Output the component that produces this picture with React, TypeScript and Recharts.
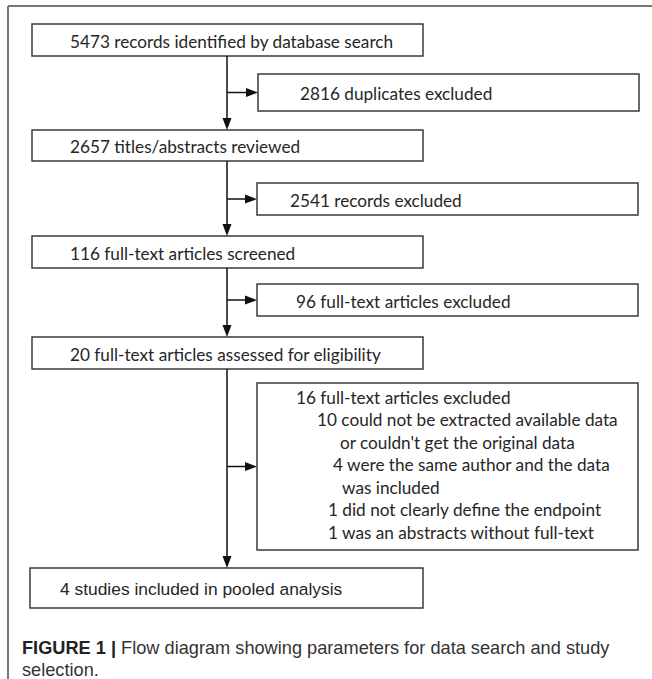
import React from 'react';
import { ComposedChart, XAxis, YAxis, ReferenceArea, ReferenceLine } from 'recharts';

// ---- content ----
const mainSteps: string[] = [
  '5473 records identified by database search',
  '2657 titles/abstracts reviewed',
  '116 full-text articles screened',
  '20 full-text articles assessed for eligibility',
  '4 studies included in pooled analysis',
];
const exclusionSteps: string[][] = [
  ['2816 duplicates excluded'],
  ['2541 records excluded'],
  ['96 full-text articles excluded'],
  [
    '16 full-text articles excluded',
    '10 could not be extracted available data',
    "or couldn't get the original data",
    '4 were the same author and the data',
    'was included',
    '1 did not clearly define the endpoint',
    '1 was an abstracts without full-text',
  ],
];
const captionBold = 'FIGURE 1 |';
const captionLine1 = ' Flow diagram showing parameters for data search and study';
const captionLine2 = 'selection.';

// ---- layout (diagram coordinates) ----
const W = 652;
const H = 679;
const mainLeft = [32, 32, 32, 32, 30];
const mainRight = [423, 423, 423, 423, 423];
const mainTop = [24, 130, 236, 337, 568];
const mainBottom = [56, 161, 268, 369, 608];
const mainTextOffset = [38, 38, 38, 38, 30];
const exclLeft = [258, 257, 257, 257];
const exclRight = [639, 638, 638, 638];
const exclTop = [74, 183, 284, 383];
const exclBottom = [111, 215, 316, 550];
const exclTextOffsets = [[42], [33], [39], [39, 60, 83, 76, 85, 71, 71]];
const spineX = 227;

const FONT = 'Lato, "Open Sans", sans-serif';
const CAPTION_FONT = '"Liberation Sans Narrow", "Liberation Sans", sans-serif';
const BOX_STROKE = '#3a3a3a';
const TEXT = '#262626';

const makeBoxShape = (lines: string[], offsets: number[], font: string, size: number) => (props: any) => {
  const { x, y, width, height } = props;
  const lh = 22.5;
  const n = lines.length;
  const firstY = n === 1 ? y + height / 2 + 1 : y + 14;
  return (
    <g>
      <rect x={x} y={y} width={width} height={height} fill="#fff" stroke={BOX_STROKE} strokeWidth={1.5} />
      {lines.map((t, i) => (
        <text
          key={i}
          x={x + offsets[i]}
          y={firstY + i * lh}
          dominantBaseline="central"
          fontFamily={font}
          fontSize={size}
          fill={TEXT}
        >
          {t}
        </text>
      ))}
    </g>
  );
};

const arrowShape = (props: any) => {
  const { x1, y1, x2, y2 } = props;
  const dx = x2 - x1;
  const dy = y2 - y1;
  const len = Math.sqrt(dx * dx + dy * dy) || 1;
  const ux = dx / len;
  const uy = dy / len;
  const hl = 12;
  const hw = 4.5;
  const bx = x2 - ux * hl;
  const by = y2 - uy * hl;
  const pts = `${x2},${y2} ${bx - uy * hw},${by + ux * hw} ${bx + uy * hw},${by - ux * hw}`;
  return (
    <g>
      <line x1={x1} y1={y1} x2={bx} y2={by} stroke="#111" strokeWidth={1.5} />
      <polygon points={pts} fill="#111" />
    </g>
  );
};

const plainLine = (props: any) => {
  const { x1, y1, x2, y2 } = props;
  return <line x1={x1} y1={y1} x2={x2} y2={y2} stroke="#777" strokeWidth={2} />;
};

const captionShape = (props: any) => {
  const { x, y } = props;
  return (
    <g>
      <text x={x} y={y} fontFamily={CAPTION_FONT} fontSize={18.2} fill="#333">
        <tspan fontWeight="bold" fill="#222">{captionBold}</tspan>
        <tspan>{captionLine1}</tspan>
      </text>
      <text x={x} y={y + 22} fontFamily={CAPTION_FONT} fontSize={18.2} fill="#333">
        {captionLine2}
      </text>
    </g>
  );
};

export default function App() {
  const spine = mainSteps.slice(0, -1).map((_, i) => ({ from: mainBottom[i], to: mainTop[i + 1] }));
  const branches = exclusionSteps.map((_, i) => ({
    y: (exclTop[i] + exclBottom[i]) / 2,
    to: exclLeft[i],
  }));
  return (
    <div style={{ position: 'absolute', left: 0, top: 0, width: W, height: H, background: '#fff' }}>
      <ComposedChart width={W} height={H} data={[]} margin={{ top: 0, right: 0, bottom: 0, left: 0 }}>
        <XAxis type="number" dataKey="x" domain={[0, W]} hide allowDataOverflow />
        <YAxis type="number" dataKey="y" domain={[0, H]} reversed hide allowDataOverflow width={0} />
        <ReferenceLine segment={[{ x: 8, y: 6 }, { x: W, y: 6 }]} shape={plainLine} ifOverflow="visible" />
        <ReferenceLine segment={[{ x: 8, y: 6 }, { x: 8, y: H }]} shape={plainLine} ifOverflow="visible" />
        {spine.map((s, i) => (
          <ReferenceLine
            key={'s' + i}
            segment={[{ x: spineX, y: s.from }, { x: spineX, y: s.to }]}
            shape={arrowShape}
            ifOverflow="visible"
          />
        ))}
        {branches.map((b, i) => (
          <ReferenceLine
            key={'b' + i}
            segment={[{ x: spineX, y: b.y }, { x: b.to, y: b.y }]}
            shape={arrowShape}
            ifOverflow="visible"
          />
        ))}
        {mainSteps.map((t, i) => (
          <ReferenceArea
            key={'m' + i}
            x1={mainLeft[i]}
            x2={mainRight[i]}
            y1={mainTop[i]}
            y2={mainBottom[i]}
            ifOverflow="visible"
            shape={makeBoxShape(
              [t],
              [mainTextOffset[i]],
              i === 4 ? CAPTION_FONT : FONT,
              i === 4 ? 17.4 : 17.2
            )}
          />
        ))}
        {exclusionSteps.map((lines, i) => (
          <ReferenceArea
            key={'e' + i}
            x1={exclLeft[i]}
            x2={exclRight[i]}
            y1={exclTop[i]}
            y2={exclBottom[i]}
            ifOverflow="visible"
            shape={makeBoxShape(lines, exclTextOffsets[i], FONT, 17.2)}
          />
        ))}
        <ReferenceArea x1={22} x2={640} y1={654} y2={676} ifOverflow="visible" shape={captionShape} />
      </ComposedChart>
    </div>
  );
}
